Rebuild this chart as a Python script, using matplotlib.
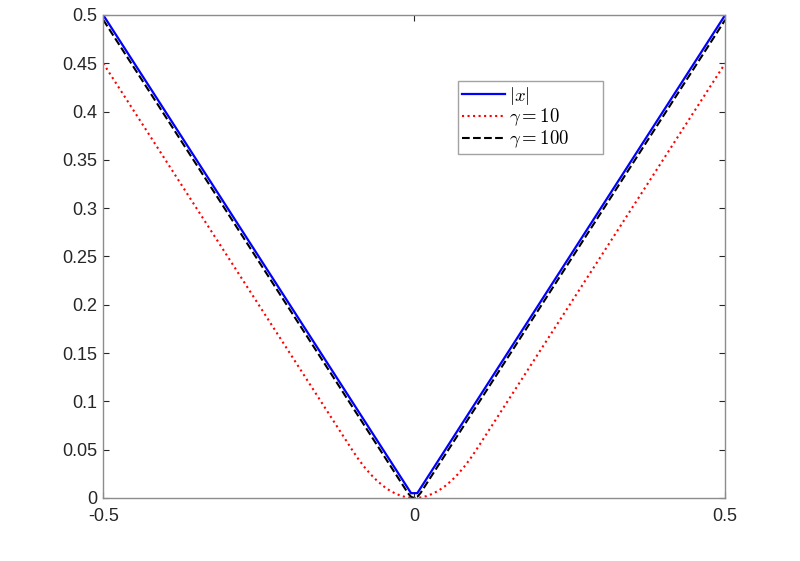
import numpy as np
import matplotlib as mpl
mpl.use('Agg')
import matplotlib.pyplot as plt

mpl.rcParams['font.family'] = ['Liberation Sans', 'DejaVu Sans']
mpl.rcParams['mathtext.fontset'] = 'cm'

# |x| as sampled (flat bottom between the two samples nearest zero)
x_abs = [-0.5, -0.005, 0.005, 0.5]
y_abs = [0.5, 0.005, 0.005, 0.5]

# gamma = 10 curve
x_g10 = [-0.5, -0.1, -0.09, -0.08, -0.07, -0.06, -0.05, -0.04, -0.03, -0.02, -0.01, 0.0,
         0.01, 0.02, 0.03, 0.04, 0.05, 0.06, 0.07, 0.08, 0.09, 0.1, 0.5]
y_g10 = [0.45, 0.05, 0.0405, 0.032, 0.0245, 0.018, 0.0125, 0.008, 0.0045, 0.002, 0.0005, 0.0,
         0.0005, 0.002, 0.0045, 0.008, 0.0125, 0.018, 0.0245, 0.032, 0.0405, 0.05, 0.45]

# gamma = 100 curve
x_g100 = [-0.5, -0.01, -0.005, 0.0, 0.005, 0.01, 0.5]
y_g100 = [0.495, 0.005, 0.00125, 0.0, 0.00125, 0.005, 0.495]

xticks = [-0.5, 0, 0.5]
xtick_labels = ['-0.5', '0', '0.5']
yticks = [0, 0.05, 0.1, 0.15, 0.2, 0.25, 0.3, 0.35, 0.4, 0.45, 0.5]
ytick_labels = ['0', '0.05', '0.1', '0.15', '0.2', '0.25', '0.3', '0.35', '0.4', '0.45', '0.5']

fig = plt.figure(figsize=(8, 5.61), dpi=100)
ax = fig.add_axes([0.129, 0.1123, 0.7775, 0.861])

ax.plot(x_abs, y_abs, color='#0000ff', lw=1.6, label=r'$|x|$')
ax.plot(x_g10, y_g10, color='#ff0000', lw=1.5, ls=':', label=r'$\gamma = 10$')
ax.plot(x_g100, y_g100, color='black', lw=1.5, ls='--', label=r'$\gamma = 100$')

ax.set_xlim(-0.5, 0.5)
ax.set_ylim(0, 0.5)
ax.set_xticks(xticks)
ax.set_xticklabels(xtick_labels)
ax.set_yticks(yticks)
ax.set_yticklabels(ytick_labels)

axis_gray = '#8c8c8c'
for sp in ax.spines.values():
    sp.set_color(axis_gray)
    sp.set_linewidth(1.0)
ax.tick_params(direction='in', top=True, right=True, length=4.5, width=0.8,
               color='#262626', labelsize=13, labelcolor='#262626')
ax.tick_params(axis='x', pad=7)
ax.tick_params(axis='y', pad=4)

# legend box stretched to the width seen in the reference
leg = ax.legend(loc='upper left', bbox_to_anchor=(0.571, 0.863, 0.233, 0.0),
                mode='expand', borderaxespad=0,
                fancybox=False, fontsize=13.5, handlelength=2.3, handletextpad=0.2,
                labelspacing=0.0, borderpad=0.2)
leg.get_frame().set_edgecolor(axis_gray)
leg.get_frame().set_linewidth(1.0)

plt.savefig('out.png', dpi=100)
